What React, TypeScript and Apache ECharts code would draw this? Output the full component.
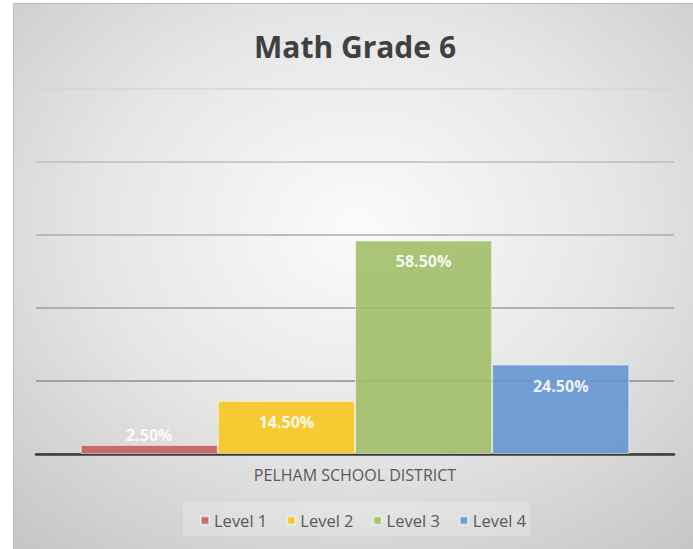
import React, { useEffect, useRef } from "react";
import * as echarts from "echarts";

const titleText = "Math Grade 6";
const categories = ["PELHAM SCHOOL DISTRICT"];
const seriesNames = ["Level 1", "Level 2", "Level 3", "Level 4"];
const seriesValues = [2.5, 14.5, 58.5, 24.5];
const seriesColors = ["#C65F5C", "#F7C71E", "#A2BF69", "#6496D2"];
const yMin = 0;
const yMax = 100;
const yInterval = 20;

export default function App() {
  const ref = useRef<HTMLDivElement>(null);
  useEffect(() => {
    if (!ref.current) return;
    const chart = echarts.init(ref.current, null, { renderer: "svg" });
    const font = "'Open Sans', 'Noto Sans', sans-serif";
    chart.setOption({
      animation: false,
      textStyle: { fontFamily: font },
      graphic: [
        {
          type: "rect",
          z: -10,
          silent: true,
          shape: { x: 13.5, y: 3.5, width: 690, height: 560 },
          style: {
            fill: new echarts.graphic.RadialGradient(0.5, 0.4, 0.75, [
              { offset: 0, color: "#fbfbfb" },
              { offset: 0.5, color: "#e6e6e6" },
              { offset: 1, color: "#c6c6c6" },
            ]),
            stroke: "#bdbdbd",
            lineWidth: 1,
          },
        },
        {
          type: "rect",
          z: -9,
          silent: true,
          shape: { x: 183, y: 502, width: 347, height: 34 },
          style: { fill: "rgba(255,255,255,0.22)" },
        },
        {
          type: "text",
          x: 355,
          y: 46,
          style: {
            text: titleText,
            fontFamily: font,
            fontSize: 30,
            fontWeight: "bold",
            fill: "#404040",
            textAlign: "center",
            textVerticalAlign: "middle",
          },
        },
      ],
      grid: { left: 36, right: 19, top: 89, bottom: 95, containLabel: false },
      xAxis: {
        type: "category",
        data: categories,
        axisLine: { lineStyle: { color: "#3a3a3a", width: 2.5 } },
        axisTick: { show: false },
        axisLabel: { color: "#595959", fontSize: 16, margin: 13, fontFamily: font },
      },
      yAxis: {
        type: "value",
        min: yMin,
        max: yMax,
        interval: yInterval,
        axisLabel: { show: false },
        axisLine: { show: false },
        axisTick: { show: false },
        splitLine: {
          lineStyle: {
            width: 1.5,
            color: ["#8a8a8a", "#8e8e8e", "#9c9c9c", "#acacac", "#bcbcbc", "#d6d6d6"],
          },
        },
      },
      legend: {
        bottom: 20,
        left: 200,
        padding: 0,
        icon: "rect",
        itemWidth: 8,
        itemHeight: 8,
        itemGap: 19,
        textStyle: { color: "#595959", fontSize: 16.5, fontFamily: font },
        data: seriesNames,
      },
      series: seriesNames.map((name, i) => ({
        name,
        type: "bar",
        barGap: "0%",
        barCategoryGap: "14%",
        data: [seriesValues[i]],
        itemStyle: {
          color: seriesColors[i],
          opacity: 0.9,
          borderColor: "rgba(255,255,255,0.55)",
          borderWidth: 1,
        },
        label: {
          show: true,
          position: seriesValues[i] < 5 ? "top" : "insideTop",
          distance: seriesValues[i] < 5 ? 2 : 13,
          color: "#ffffff",
          fontSize: 16,
          fontWeight: "bold",
          fontFamily: font,
          formatter: (p: any) => p.value.toFixed(2) + "%",
        },
      })),
    });
    return () => chart.dispose();
  }, []);
  return (
    <div
      ref={ref}
      style={{ position: "fixed", left: 0, top: 0, width: 693, height: 549, background: "#ffffff" }}
    />
  );
}
